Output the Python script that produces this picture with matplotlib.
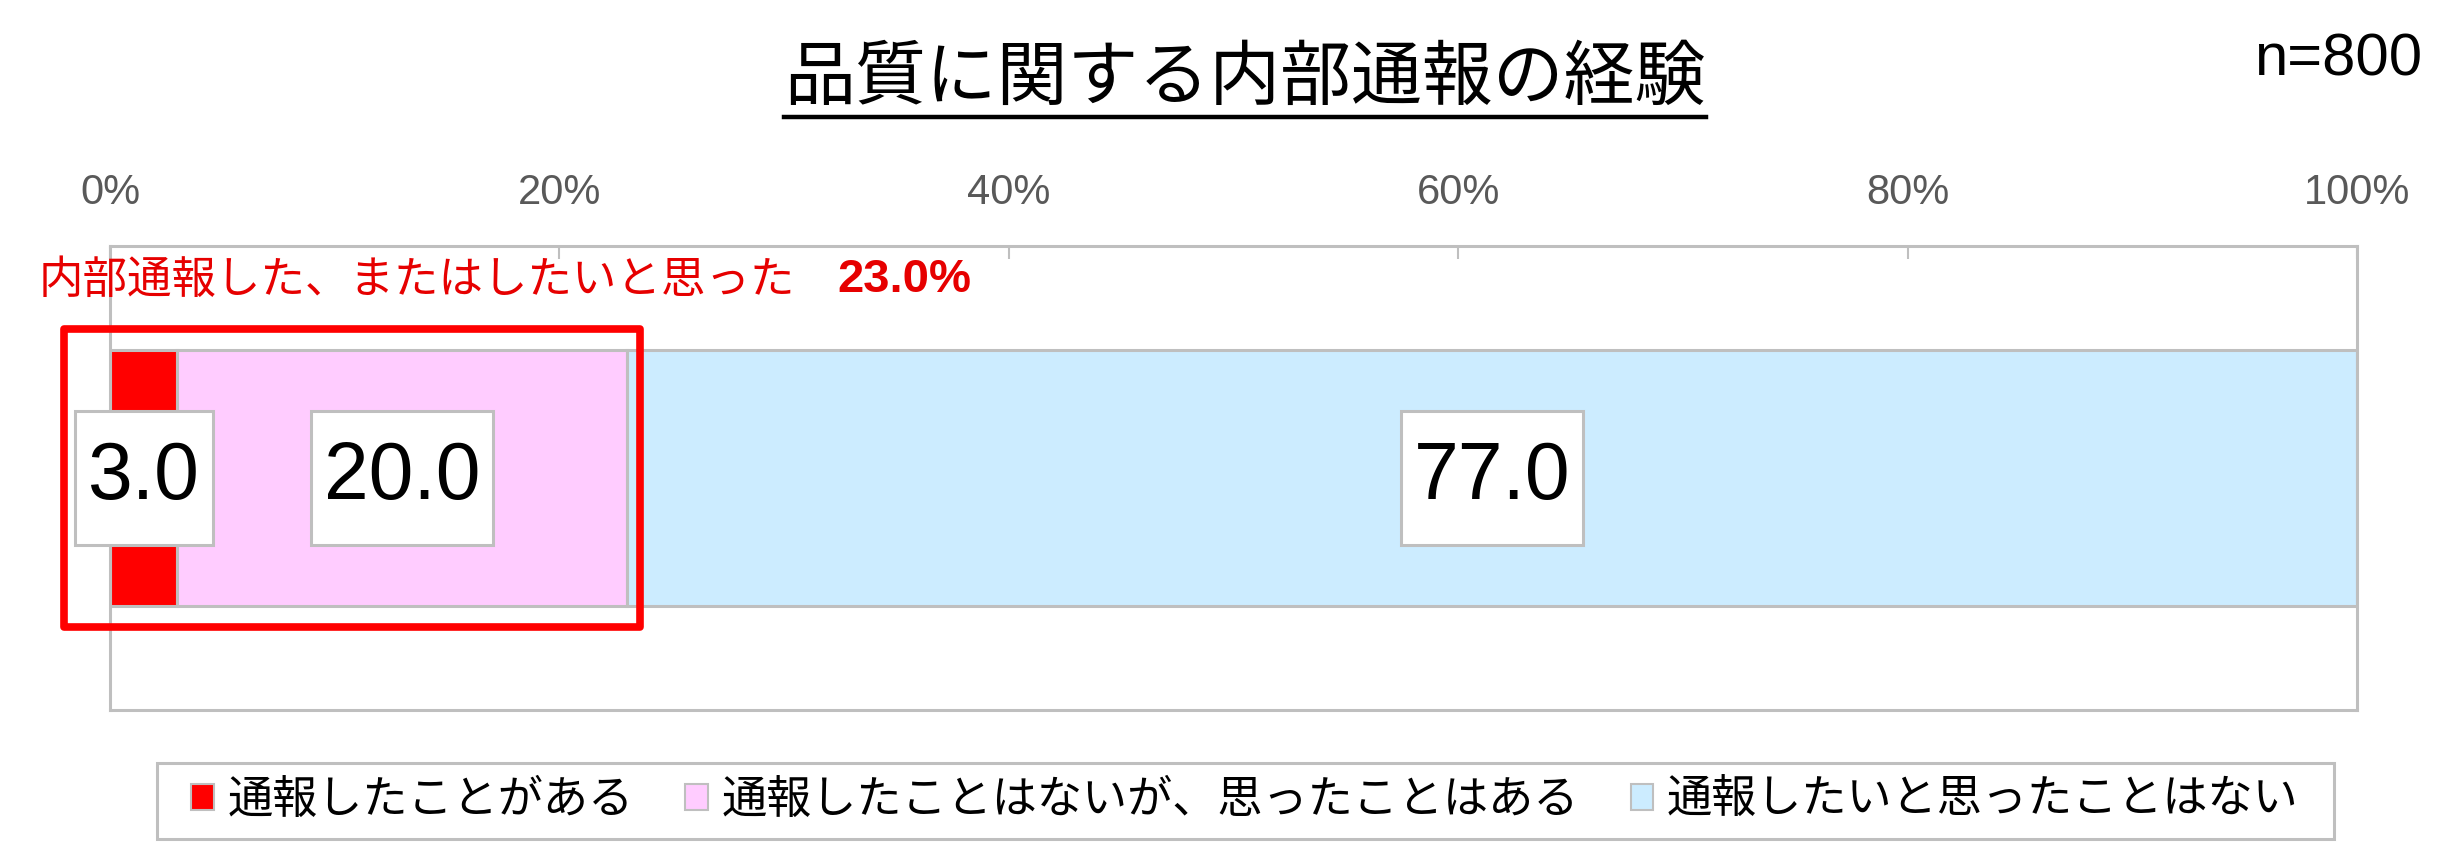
import matplotlib
matplotlib.use('Agg')
import matplotlib.pyplot as plt
from matplotlib.patches import Rectangle, Patch
from matplotlib.lines import Line2D
from matplotlib.path import Path

# ---- data ----
title = '品質に関する内部通報の経験'
sample_note = 'n=800'
categories = ['通報したことがある', '通報したことはないが、思ったことはある', '通報したいと思ったことはない']
values = [3.0, 20.0, 77.0]
colors = ['#FF0000', '#FFCCFF', '#CCECFF']
ticks = [0, 20, 40, 60, 80, 100]
tick_labels = ['0%', '20%', '40%', '60%', '80%', '100%']
callout_text = '内部通報した、またはしたいと思った'
callout_value = sum(values[:2])

JP = ['Noto Sans CJK JP', 'DejaVu Sans']
NUM = ['Liberation Sans Narrow', 'Liberation Sans', 'DejaVu Sans']
plt.rcParams['font.family'] = JP

EDGE = '#BFBFBF'


def label_box(x0, y0, width, height, mutation_size):
    """Rectangle with separate horizontal and vertical padding."""
    px = 0.16 * mutation_size
    py = 0.36 * mutation_size
    x0, y0 = x0 - px, y0 - py
    x1, y1 = x0 + width + 2 * px, y0 + height + 2 * py
    return Path([(x0, y0), (x1, y0), (x1, y1), (x0, y1), (x0, y0)], closed=True)


fig = plt.figure(figsize=(24.58, 8.66), dpi=100)
ax = fig.add_axes([110/2458, 0.180, (2357-110)/2458, 0.716-0.180])

bar_h = 0.552
left = 0.0
for v, c, lab in zip(values, colors, categories):
    ax.barh(0, v, left=left, height=bar_h, color=c, edgecolor=EDGE, linewidth=2.2, label=lab, zorder=2)
    ax.text(left + v / 2, 0, f'{v:.1f}', ha='center', va='center', fontsize=58, family=NUM,
            color='black', zorder=5,
            bbox=dict(boxstyle=label_box, fc='white', ec=EDGE, lw=2.2))
    left += v

ax.set_xlim(0, 100)
ax.set_ylim(-0.5, 0.5)
ax.xaxis.tick_top()
ax.set_xticks(ticks)
ax.set_xticklabels(tick_labels)
ax.tick_params(axis='x', direction='in', length=9, width=1.5, color=EDGE, pad=24,
               labelsize=30, labelcolor='#595959')
for lbl in ax.get_xticklabels():
    lbl.set_family(NUM)
ax.set_yticks([])
for s in ax.spines.values():
    s.set_color(EDGE)
    s.set_linewidth(2.2)

# red highlight box around first two segments
pad_y = 0.045
rx0 = -2.05
rx1 = callout_value + 0.6
rect = Rectangle((rx0, -bar_h / 2 - pad_y), rx1 - rx0, bar_h + 2 * pad_y, fill=False,
                 ec='#FF0000', lw=5.5, joinstyle='round', clip_on=False, zorder=6)
ax.add_patch(rect)

# callout text
t1 = fig.text(39/2458, 1 - 280/866, callout_text, ha='left', va='center', fontsize=32,
              color='#E60000')
ax.annotate(f'{callout_value:.1f}%', xy=(1, 0.5), xycoords=t1, xytext=(30, 0),
            textcoords='offset points', ha='left', va='center', fontsize=34,
            fontweight='bold', family=NUM, color='#E60000', annotation_clip=False)

# title with underline
tt = fig.text(1245/2458, 1 - 78/866, title, ha='center', va='center', fontsize=51, color='black')
fig.canvas.draw()
bb = tt.get_window_extent().transformed(fig.transFigure.inverted())
fig.add_artist(Line2D([bb.x0, bb.x1], [1 - 117/866, 1 - 117/866], color='black', lw=3.2))

fig.text(2422/2458, 1 - 60/866, sample_note, ha='right', va='center', fontsize=43,
         family=NUM, color='black')

# legend
handles = [Patch(fc=c, ec=EDGE, lw=1.5) for c in colors]
fig.legend(handles, categories, loc='center', bbox_to_anchor=(1245/2458, 1 - 800/866),
           ncol=3, fontsize=32.5, frameon=False, handlelength=0.5, handleheight=0.5,
           handletextpad=0.3, columnspacing=1.15)
fig.add_artist(Rectangle((157/2458, 1 - 839/866), (2334-157)/2458, 76/866,
                         transform=fig.transFigure, fill=False, ec=EDGE, lw=2.2))

fig.savefig('out.png', dpi=100, facecolor='white')
